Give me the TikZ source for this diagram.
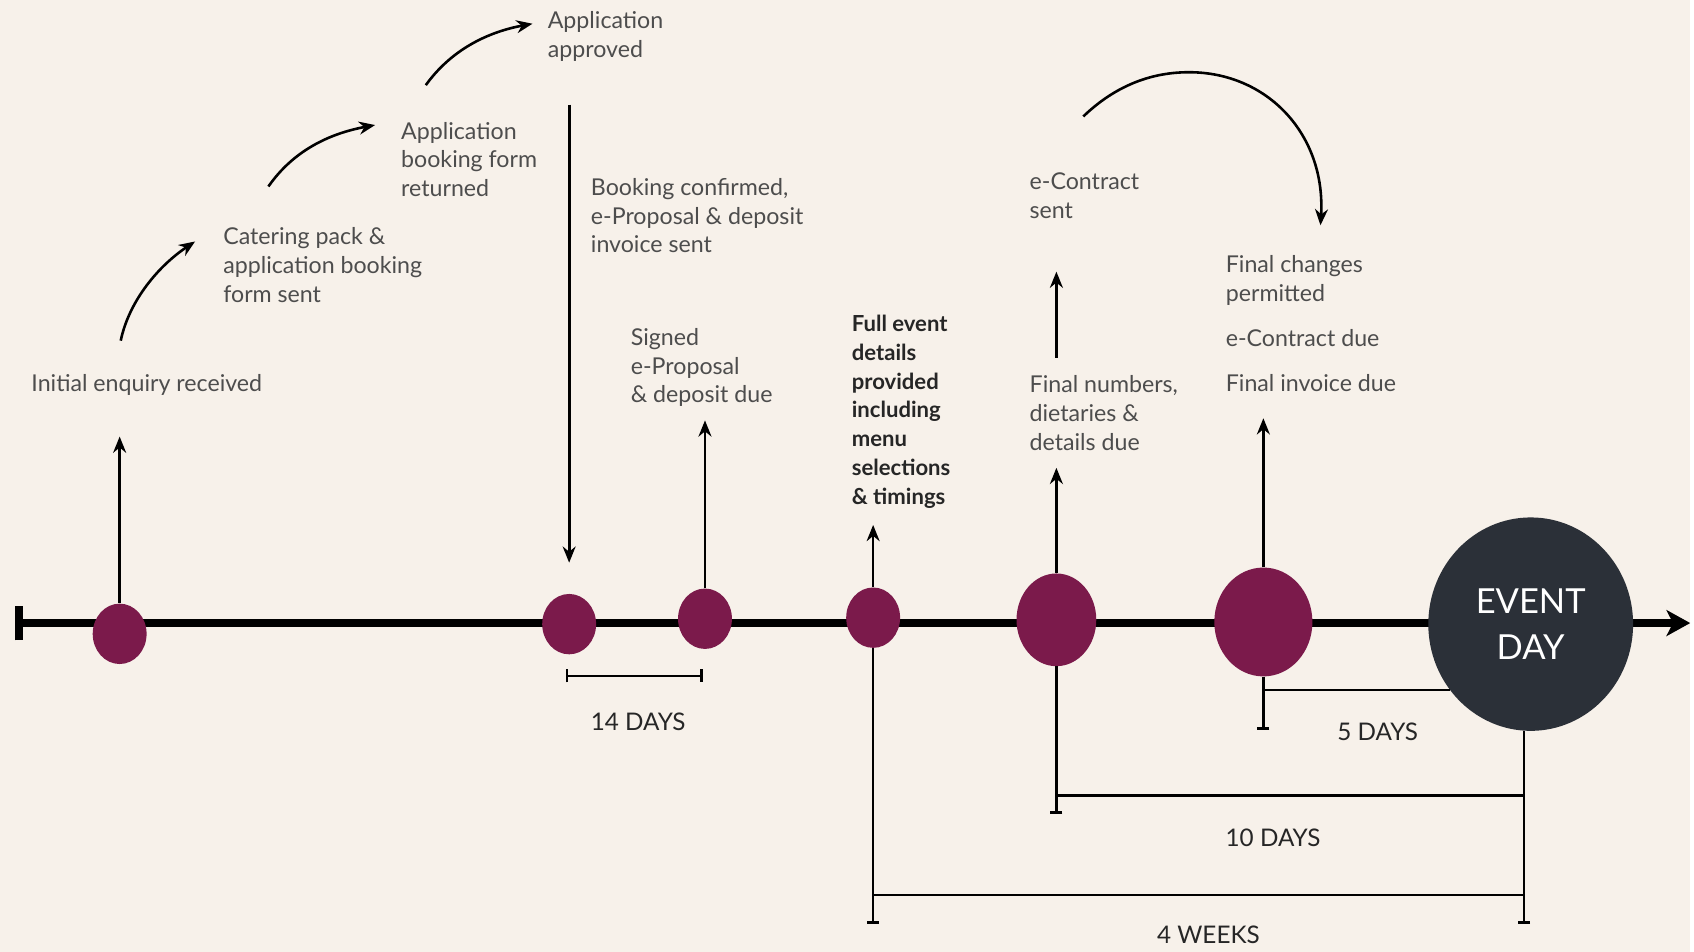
\documentclass[tikz,border=0pt]{standalone}
\usepackage{fontspec}
\setmainfont{Lato}
\usetikzlibrary{arrows.meta,shapes.geometric}
\definecolor{bgc}{HTML}{F7F1EA}
\definecolor{plum}{HTML}{7B1A4B}
\definecolor{navy}{HTML}{2B3038}
\definecolor{txt}{HTML}{4D4D4D}
\definecolor{dtxt}{HTML}{262626}
\pgfdeclarelayer{bg}\pgfsetlayers{bg,main}
\begin{document}
\begin{tikzpicture}[x=1pt,y=-1pt,
 dot/.style={ellipse, fill=plum, draw=none, inner sep=0pt},
 lbl/.style={anchor=west, align=left, inner sep=0pt, text=txt, font=\fontsize{21.5}{26.7}\selectfont},
 blbl/.style={anchor=west, align=left, inner sep=0pt, text=dtxt, font=\fontsize{20.5}{26.7}\selectfont\bfseries},
 dlbl/.style={inner sep=0pt, text=dtxt, font=\fontsize{22.5}{26}\selectfont},
 arr/.style={line width=2.5pt, -{Stealth[length=15pt,width=12pt]}},
 carr/.style={line width=2.4pt, -{Stealth[length=15pt,width=12pt]}},
 brk/.style={line width=2.2pt},
 endbar/.style={-{Bar[width=11pt,line width=2.8pt]}}
]
\begin{pgfonlayer}{bg}
\fill[bgc] (0,0) rectangle (1568,883);
\coordinate (tl0) at (14,578); \coordinate (tl1) at (1568,578);
\draw[line width=7pt, {Bar[width=32pt]}-{Stealth[length=22pt,width=24pt,inset=6pt]}] (tl0) -- (tl1);
\end{pgfonlayer}
\useasboundingbox (0,0) rectangle (1568,883);

% dots
\node[dot, minimum width=50pt, minimum height=56pt] (d1) at (111,588) {};
\node[dot, minimum width=50pt, minimum height=56pt] (d2) at (528,579) {};
\node[dot, minimum width=50pt, minimum height=56pt] (d3) at (654,574) {};
\node[dot, minimum width=50pt, minimum height=56pt] (d4) at (810,573) {};
\node[dot, minimum width=74pt, minimum height=86pt] (d5) at (980,575) {};
\node[dot, minimum width=91pt, minimum height=101pt] (d6) at (1172,577) {};
\node[ellipse, fill=navy, minimum width=190pt, minimum height=198pt, inner sep=0pt, text=white, align=center, font=\fontsize{32}{42}\selectfont] (ev) at (1420,579) {EVENT\\DAY};

% vertical arrows
\coordinate (a1) at (111,405); \draw[arr] (d1) -- (a1);
\coordinate (a2s) at (528,97); \coordinate (a2e) at (528,522); \draw[arr] (a2s) -- (a2e);
\coordinate (a3) at (654,390); \draw[arr] (d3) -- (a3);
\coordinate (a4) at (810,487); \draw[arr] (d4) -- (a4);
\coordinate (a5) at (980,434); \draw[arr] (d5) -- (a5);
\coordinate (a6s) at (980,332); \coordinate (a6e) at (980,252); \draw[arr] (a6s) -- (a6e);
\coordinate (a7) at (1172,388); \draw[arr] (d6) -- (a7);

% brackets
\coordinate (b14l) at (525,627); \coordinate (b14r) at (652,627);
\draw[brk, {Bar[width=12pt]}-{Bar[width=12pt]}] (b14l) -- (b14r);
\node[dlbl] (l14) at (592,670) {14 DAYS};

\coordinate (b5b) at (1172,677); \draw[brk,endbar] (d6) -- (b5b);
\coordinate (b5r) at (1345,640); \draw[brk] (d6 |- b5r) -- (b5r);
\node[dlbl] (l5) at (1278,679) {5 DAYS};

\coordinate (b10b) at (980,755); \draw[brk,endbar] (d5) -- (b10b);
\coordinate (b10r) at (1414,738); \draw[brk] (d5 |- b10r) -- (b10r);
\node[dlbl] (l10) at (1181,777) {10 DAYS};

\coordinate (b4b) at (810,857); \draw[brk,endbar] (d4) -- (b4b);
\coordinate (evb) at (1414,857); \draw[brk,endbar] (ev.south -| evb) -- (evb);
\coordinate (b4r) at (1414,830); \draw[brk] (d4 |- b4r) -- (b4r);
\node[dlbl] (l4) at (1121,867) {4 WEEKS};

% labels
\node[lbl] (t1) at (29,357) {Initial enquiry received};
\node[lbl] (t2) at (207,246) {Catering pack \&\\application booking\\form sent};
\node[lbl] (t3) at (372,148) {Application\\booking form\\returned};
\node[lbl] (t4) at (508,33.5) {Application\\approved};
\node[lbl] (t5) at (548,200) {Booking confirmed,\\e-Proposal \& deposit\\invoice sent};
\node[lbl] (t6) at (585,341) {Signed\\e-Proposal\\\& deposit due};
\node[blbl] (t7) at (790,382) {Full event\\details\\provided\\including\\menu\\selections\\\& timings};
\node[lbl] (t8) at (955,181.5) {e-Contract\\sent};
\node[lbl] (t9) at (955,383) {Final numbers,\\dietaries \&\\details due};
\node[lbl] (t10) at (1137,260) {Final changes\\permitted};
\node[lbl] (t11) at (1137,314) {e-Contract due};
\node[lbl] (t12) at (1137,355) {Final invoice due};

% curved arrows
\coordinate (c1s) at (112,316); \coordinate (c1e) at (181,224);
\draw[carr] (c1s) .. controls (120,278) and (148,246) .. (c1e);
\coordinate (c2s) at (249,173); \coordinate (c2e) at (348,116);
\draw[carr] (c2s) .. controls (272,140) and (305,124) .. (c2e);
\coordinate (c3s) at (395,79); \coordinate (c3e) at (494,22);
\draw[carr] (c3s) .. controls (418,47) and (451,30) .. (c3e);
\coordinate (c4s) at (1005,108); \coordinate (c4m) at (1103,67); \coordinate (c4e) at (1225,209);
\draw[carr] (c4s) .. controls (1030,84) and (1062,67) .. (c4m) .. controls (1176,67) and (1230,125) .. (c4e);
\end{tikzpicture}
\end{document}
